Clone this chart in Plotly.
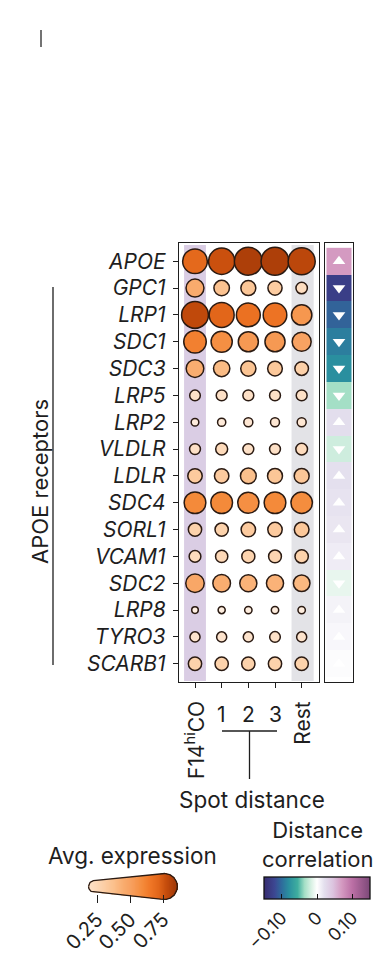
import numpy as np
import plotly.graph_objects as go

W, H = 374, 959
FONT = "Inter, Liberation Sans, Arial"
INK = "#1e1e1e"

def px(x):
    return x / W

def py(y):
    return 1 - y / H

# ---------------- data ----------------
genes = ["APOE", "GPC1", "LRP1", "SDC1", "SDC3", "LRP5", "LRP2", "VLDLR",
         "LDLR", "SDC4", "SORL1", "VCAM1", "SDC2", "LRP8", "TYRO3", "SCARB1"]
groups = ["F14<sup>hi</sup>CO", "1", "2", "3", "Rest"]

expr_f14hico = [0.71, 0.46, 0.79, 0.63, 0.45, 0.19, 0.08, 0.20, 0.33, 0.60, 0.29, 0.23, 0.48, 0.04, 0.17, 0.29]
expr_dist1   = [0.77, 0.37, 0.72, 0.58, 0.40, 0.20, 0.10, 0.24, 0.33, 0.60, 0.29, 0.25, 0.45, 0.06, 0.17, 0.29]
expr_dist2   = [0.83, 0.35, 0.68, 0.54, 0.36, 0.20, 0.13, 0.20, 0.38, 0.58, 0.33, 0.28, 0.43, 0.07, 0.17, 0.29]
expr_dist3   = [0.83, 0.32, 0.67, 0.54, 0.34, 0.20, 0.13, 0.20, 0.35, 0.60, 0.33, 0.27, 0.43, 0.07, 0.19, 0.29]
expr_rest    = [0.80, 0.22, 0.55, 0.50, 0.30, 0.20, 0.13, 0.23, 0.35, 0.59, 0.34, 0.29, 0.41, 0.07, 0.17, 0.29]

dist_corr = [0.07, -0.13, -0.105, -0.09, -0.08, -0.035, 0.022, -0.02,
             0.02, 0.018, 0.016, 0.012, -0.01, 0.008, 0.005, 0.002]

expr_ticks = [0.25, 0.50, 0.75]
expr_ticktext = ["0.25", "0.50", "0.75"]
corr_ticks = [-0.10, 0.0, 0.10]
corr_ticktext = ["\u22120.10", "0", "0.10"]

# ---------------- scales ----------------
EXPR_MIN, EXPR_MAX = 0.0, 0.9
expr_stops = [(0.0, "#fff3e8"), (0.1, "#feead9"), (0.2, "#fde0c6"), (0.3, "#fcd0a8"),
              (0.38, "#fbc08c"), (0.45, "#f9ad70"), (0.52, "#f79e5c"), (0.60, "#f48a3a"),
              (0.66, "#ef7626"), (0.72, "#e2661a"), (0.78, "#c54c0c"), (0.84, "#a83c08"),
              (0.9, "#8f3306")]
expr_scale = [[(v - EXPR_MIN) / (EXPR_MAX - EXPR_MIN), c] for v, c in expr_stops]

CORR_MIN, CORR_MAX = -0.15, 0.15
corr_scale = [[0.0, "#372c70"], [0.10, "#3c4792"], [0.1667, "#2e6c9c"], [0.233, "#2a8f9f"],
              [0.317, "#3fae9f"], [0.383, "#a4dfc6"], [0.45, "#dcf2e6"], [0.5, "#ffffff"],
              [0.567, "#e4e0ee"], [0.65, "#dcc4df"], [0.733, "#d49ac1"], [0.833, "#bb6fa5"],
              [1.0, "#7c4878"]]

def dot_diameter(v):
    return 5.5 + 27.0 * np.asarray(v, dtype=float)

cols = [expr_f14hico, expr_dist1, expr_dist2, expr_dist3, expr_rest]
xs, ys, vs = [], [], []
for ci, col in enumerate(cols):
    for ri, v in enumerate(col):
        xs.append(ci)
        ys.append(ri)
        vs.append(v)

fig = go.Figure()

# main dot plot
fig.add_trace(go.Scatter(
    x=xs, y=ys, mode="markers", xaxis="x", yaxis="y",
    marker=dict(size=dot_diameter(vs), sizemode="diameter", color=vs,
                colorscale=expr_scale, cmin=EXPR_MIN, cmax=EXPR_MAX,
                line=dict(color="#2a1a12", width=1.5), opacity=1),
    showlegend=False, hoverinfo="skip"))

# correlation column + its colour bar
CB_LEFT, CB_LEN, CB_TOP, CB_THICK = 264, 106, 877, 22
fig.add_trace(go.Heatmap(
    z=[[v] for v in dist_corr], x=[0], y=list(range(len(genes))),
    xaxis="x2", yaxis="y2", colorscale=corr_scale, zmin=CORR_MIN, zmax=CORR_MAX,
    showscale=True, hoverinfo="skip",
    colorbar=dict(orientation="h", x=px(CB_LEFT + CB_LEN / 2), xanchor="center",
                  y=py(CB_TOP), yanchor="top",
                  len=CB_LEN, lenmode="pixels", thickness=CB_THICK, thicknessmode="pixels",
                  outlinewidth=1.3, outlinecolor="#111", ticks="inside", ticklen=5,
                  tickcolor="#111", tickwidth=1.2, tickvals=corr_ticks, ticktext=corr_ticktext,
                  tickangle=-45, tickfont=dict(size=18, family=FONT, color=INK),
                  xpad=0, ypad=0)))
fig.add_trace(go.Scatter(
    x=[0] * len(genes), y=list(range(len(genes))), mode="markers", xaxis="x2", yaxis="y2",
    marker=dict(symbol=["triangle-up" if v >= 0 else "triangle-down" for v in dist_corr],
                size=11, color="white", line=dict(width=0)),
    showlegend=False, hoverinfo="skip"))

# expression legend wedge (gradient + size)
PX_PER_UNIT = 132.0
v_left, v_right = 0.23, 0.76
r_l = dot_diameter(v_left) / 2
r_r = dot_diameter(v_right) / 2
c_l = v_left * PX_PER_UNIT
c_r = v_right * PX_PER_UNIT
xp = np.linspace(c_l - r_l, c_r + r_r, 200)
h = np.zeros_like(xp)
for i, x in enumerate(xp):
    vals = []
    if abs(x - c_l) <= r_l:
        vals.append(np.sqrt(max(r_l**2 - (x - c_l)**2, 0)))
    if abs(x - c_r) <= r_r:
        vals.append(np.sqrt(max(r_r**2 - (x - c_r)**2, 0)))
    if c_l <= x <= c_r:
        vals.append(r_l + (r_r - r_l) * (x - c_l) / (c_r - c_l))
    h[i] = max(vals) if vals else 0
xv = xp / PX_PER_UNIT
step = xv[1] - xv[0]
fig.add_trace(go.Bar(
    x=xv, y=2 * h, base=-h, width=step * 1.3, xaxis="x3", yaxis="y3",
    marker=dict(color=xv, colorscale=expr_scale, cmin=EXPR_MIN, cmax=EXPR_MAX,
                line=dict(width=0)),
    showlegend=False, hoverinfo="skip"))
fig.add_trace(go.Scatter(
    x=np.concatenate([xv, xv[::-1], xv[:1]]), y=np.concatenate([h, -h[::-1], h[:1]]),
    mode="lines", line=dict(color="#2a1a12", width=1.3), xaxis="x3", yaxis="y3",
    showlegend=False, hoverinfo="skip"))

# ---------------- layout ----------------
y_dom = [py(682), py(243)]
y_rng = [15.68, -0.68]
fig.update_layout(
    width=W, height=H, margin=dict(l=0, r=0, t=0, b=0, pad=0, autoexpand=False),
    paper_bgcolor="white", plot_bgcolor="white",
    font=dict(family=FONT, color=INK),
    barmode="overlay",
    xaxis=dict(domain=[px(179), px(319)], range=[-0.6, 4.65], tickvals=list(range(5)),
               showticklabels=False, ticks="outside", ticklen=5, tickcolor=INK, tickwidth=1.2,
               showline=True, mirror=True, linecolor=INK, linewidth=1.4, automargin=False,
               showgrid=False, zeroline=False, fixedrange=True),
    yaxis=dict(domain=y_dom, range=y_rng, tickvals=list(range(len(genes))),
               ticktext=["<i>%s</i>" % g for g in genes], ticks="outside", ticklen=5,
               tickcolor=INK, tickwidth=1.2, ticklabelstandoff=3, automargin=False,
               tickfont=dict(size=21, family=FONT, color=INK),
               showline=True, mirror=True, linecolor=INK, linewidth=1.4,
               showgrid=False, zeroline=False, fixedrange=True),
    xaxis2=dict(domain=[px(325), px(353)], range=[-0.56, 0.56], showticklabels=False,
                ticks="", showline=True, mirror=True, linecolor=INK, linewidth=1.4,
                showgrid=False, zeroline=False, fixedrange=True, anchor="y2", automargin=False),
    yaxis2=dict(domain=y_dom, range=y_rng, showticklabels=False, ticks="",
                showline=True, mirror=True, linecolor=INK, linewidth=1.4, automargin=False,
                showgrid=False, zeroline=False, fixedrange=True, anchor="x2"),
    xaxis3=dict(domain=[px(80), px(190)],
                range=[0.25 - 17 / PX_PER_UNIT, 0.25 + 93 / PX_PER_UNIT],
                tickvals=expr_ticks, ticktext=expr_ticktext, ticks="inside", ticklen=8,
                tickcolor=INK, tickwidth=1.2, tickangle=-45, automargin=False,
                tickfont=dict(size=20, family=FONT, color=INK),
                showline=False, showgrid=False, zeroline=False, anchor="y3", fixedrange=True),
    yaxis3=dict(domain=[py(903), py(870)], range=[-16.5, 16.5], visible=False,
                anchor="x3", fixedrange=True, automargin=False),
)

shapes = [
    dict(type="rect", xref="x", yref="y", x0=-0.41, x1=0.41, y0=-0.605, y1=15.64,
         fillcolor="#dacde4", line=dict(width=0), layer="below"),
    dict(type="rect", xref="x", yref="y", x0=3.62, x1=4.45, y0=-0.605, y1=15.64,
         fillcolor="#e3e3e7", line=dict(width=0), layer="below"),
    dict(type="line", xref="paper", yref="paper", x0=px(222), x1=px(277), y0=py(731), y1=py(731),
         line=dict(color=INK, width=1.3)),
    dict(type="line", xref="paper", yref="paper", x0=px(249.5), x1=px(249.5), y0=py(731), y1=py(779),
         line=dict(color=INK, width=1.3)),
    dict(type="line", xref="paper", yref="paper", x0=px(53), x1=px(53), y0=py(287), y1=py(665),
         line=dict(color=INK, width=1.3)),
    dict(type="line", xref="paper", yref="paper", x0=px(41), x1=px(41), y0=py(30), y1=py(47),
         line=dict(color="#444", width=1.5)),
]
# matching tick marks along the top edge of the correlation colour bar
for t in corr_ticks:
    tx = CB_LEFT + (t - CORR_MIN) / (CORR_MAX - CORR_MIN) * CB_LEN
    shapes.append(dict(type="line", xref="paper", yref="paper", x0=px(tx), x1=px(tx),
                       y0=py(CB_TOP), y1=py(CB_TOP + 5), line=dict(color="#111", width=1.2)))
fig.update_layout(shapes=shapes)

ann = []
# column labels
ann.append(dict(x=0, y=py(699), xref="x", yref="paper", text=groups[0], textangle=-90,
                showarrow=False, xanchor="center", yanchor="top",
                font=dict(size=21, family=FONT, color=INK)))
ann.append(dict(x=4, y=py(699), xref="x", yref="paper", text=groups[4], textangle=-90,
                showarrow=False, xanchor="center", yanchor="top",
                font=dict(size=21, family=FONT, color=INK)))
for i in (1, 2, 3):
    ann.append(dict(x=i, y=py(714), xref="x", yref="paper", text=groups[i],
                    showarrow=False, xanchor="center", yanchor="middle",
                    font=dict(size=21, family=FONT, color=INK)))
ann.append(dict(x=px(252), y=py(799), xref="paper", yref="paper", text="Spot distance",
                showarrow=False, xanchor="center", yanchor="middle",
                font=dict(size=22.5, family=FONT, color=INK)))
ann.append(dict(x=px(40), y=py(482), xref="paper", yref="paper", text="APOE receptors",
                textangle=-90, showarrow=False, xanchor="center", yanchor="middle",
                font=dict(size=22, family=FONT, color=INK)))
ann.append(dict(x=px(132), y=py(855), xref="paper", yref="paper", text="Avg. expression",
                showarrow=False, xanchor="center", yanchor="middle",
                font=dict(size=22.5, family=FONT, color=INK)))
ann.append(dict(x=px(318), y=py(844), xref="paper", yref="paper", text="Distance<br>correlation",
                showarrow=False, xanchor="center", yanchor="middle",
                font=dict(size=22, family=FONT, color=INK)))
fig.update_layout(annotations=ann)

fig.write_html("out.html", config={"displayModeBar": False},
               post_script="document.body.style.margin='0';")
